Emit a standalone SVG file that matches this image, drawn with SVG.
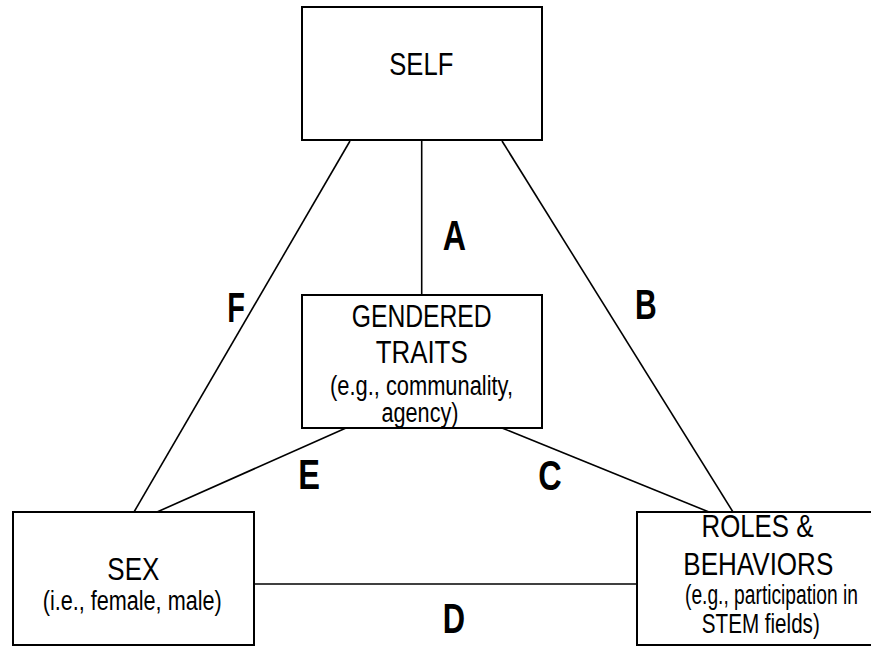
<svg xmlns="http://www.w3.org/2000/svg" width="871" height="646" viewBox="0 0 871 646">
<style>
.box{fill:#fff;stroke:#000;stroke-width:2}
.ln{stroke:#000;stroke-width:1.6;fill:none}
.t{font-family:"Liberation Sans Narrow","Arial Narrow","Liberation Sans",Arial,sans-serif;fill:#000;text-anchor:middle}
.m{font-size:31px}
.s{font-size:27px}
.lb{font-family:"Liberation Sans Narrow","Arial Narrow","Liberation Sans",Arial,sans-serif;font-weight:bold;font-size:42px;fill:#000}
</style>
<rect width="871" height="646" fill="#fff"/>
<g id="connectors">
<line class="ln" x1="421.7" y1="141" x2="421.7" y2="295"/>
<line class="ln" x1="350" y1="141" x2="134" y2="512"/>
<line class="ln" x1="502" y1="141" x2="733" y2="512"/>
<line class="ln" x1="346" y1="428" x2="157" y2="512"/>
<line class="ln" x1="502" y1="428" x2="709" y2="512"/>
<line class="ln" x1="254" y1="584" x2="637" y2="584"/>
</g>
<g id="self">
<rect class="box" x="302" y="7" width="240" height="133"/>
<text class="t m" x="421.3" y="75" textLength="64" lengthAdjust="spacingAndGlyphs">SELF</text>
</g>
<g id="gendered-traits">
<rect class="box" x="302" y="295" width="240" height="133"/>
<text class="t m" x="421.7" y="326.7" textLength="140" lengthAdjust="spacingAndGlyphs">GENDERED</text>
<text class="t m" x="421.7" y="363" textLength="92" lengthAdjust="spacingAndGlyphs">TRAITS</text>
<text class="t s" x="421.5" y="395" textLength="183" lengthAdjust="spacingAndGlyphs">(e.g., communality,</text>
<text class="t s" x="420" y="422" textLength="77" lengthAdjust="spacingAndGlyphs">agency)</text>
</g>
<g id="sex">
<rect class="box" x="13" y="512" width="241" height="133"/>
<text class="t m" x="133.3" y="580" textLength="52" lengthAdjust="spacingAndGlyphs">SEX</text>
<text class="t s" x="132.2" y="610" textLength="179" lengthAdjust="spacingAndGlyphs">(i.e., female, male)</text>
</g>
<g id="roles-behaviors">
<rect class="box" x="637" y="512" width="241" height="133"/>
<text class="t m" x="757.5" y="536.7" textLength="112" lengthAdjust="spacingAndGlyphs">ROLES &amp;</text>
<text class="t m" x="758.3" y="575" textLength="150" lengthAdjust="spacingAndGlyphs">BEHAVIORS</text>
<text class="t s" x="771.5" y="604" textLength="173" lengthAdjust="spacingAndGlyphs">(e.g., participation in</text>
<text class="t s" x="760.8" y="632.7" textLength="118" lengthAdjust="spacingAndGlyphs">STEM fields)</text>
</g>
<g id="labels">
<text class="lb" x="442.7" y="250" textLength="23.3" lengthAdjust="spacingAndGlyphs">A</text>
<text class="lb" x="635" y="319.3" textLength="21.7" lengthAdjust="spacingAndGlyphs">B</text>
<text class="lb" x="538.3" y="490" textLength="23.4" lengthAdjust="spacingAndGlyphs">C</text>
<text class="lb" x="442.7" y="632.7" textLength="22.3" lengthAdjust="spacingAndGlyphs">D</text>
<text class="lb" x="298.3" y="489.3" textLength="21.7" lengthAdjust="spacingAndGlyphs">E</text>
<text class="lb" x="227.3" y="321.7" textLength="17.7" lengthAdjust="spacingAndGlyphs">F</text>
</g>
</svg>
